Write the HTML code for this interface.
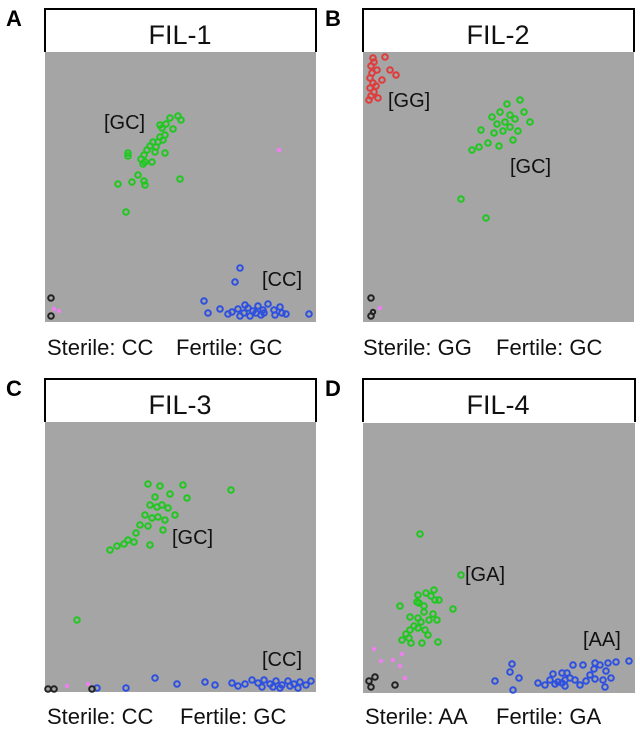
<!DOCTYPE html>
<html><head><style>
body{margin:0;background:#fff;}
svg{display:block}
text{font-family:"Liberation Sans",sans-serif}
</style></head><body>
<svg width="640" height="729" viewBox="0 0 640 729">
<g fill="none" stroke-width="2">
<!-- Panel A -->
<text x="6" y="26" font-size="22" font-weight="bold" fill="#000" stroke="none">A</text>
<path d="M45,52 V9 H316 V52" stroke="#000" stroke-width="2"/>
<text x="180" y="44" font-size="27" text-anchor="middle" fill="#111" stroke="none">FIL-1</text>
<rect x="45" y="52" width="271" height="270" fill="#a5a5a5" stroke="none"/>
<text x="104" y="129" font-size="20" fill="#111" stroke="none">[GC]</text>
<text x="262" y="286" font-size="20" fill="#111" stroke="none">[CC]</text>
<g stroke="#1fc81f">
<circle cx="166" cy="124" r="2.8"/><circle cx="170" cy="118" r="2.8"/><circle cx="178" cy="116" r="2.8"/><circle cx="181" cy="120" r="2.8"/><circle cx="160" cy="125" r="2.8"/><circle cx="162" cy="128" r="2.8"/><circle cx="173" cy="129" r="2.8"/><circle cx="165" cy="135" r="2.8"/><circle cx="163" cy="140" r="2.8"/><circle cx="158" cy="142" r="2.8"/><circle cx="153" cy="142" r="2.8"/><circle cx="150" cy="146" r="2.8"/><circle cx="156" cy="147" r="2.8"/><circle cx="147" cy="150" r="2.8"/><circle cx="144" cy="155" r="2.8"/><circle cx="141" cy="159" r="2.8"/><circle cx="145" cy="162" r="2.8"/><circle cx="128" cy="153" r="2.8"/><circle cx="128" cy="156" r="2.8"/><circle cx="165" cy="153" r="2.8"/><circle cx="152" cy="162" r="2.8"/><circle cx="143" cy="164" r="2.8"/><circle cx="138" cy="175" r="2.8"/><circle cx="132" cy="182" r="2.8"/><circle cx="144" cy="181" r="2.8"/><circle cx="145" cy="185" r="2.8"/><circle cx="118" cy="184" r="2.8"/><circle cx="180" cy="179" r="2.8"/><circle cx="126" cy="212" r="2.8"/><circle cx="160" cy="137" r="2.8"/><circle cx="155" cy="152" r="2.8"/>
</g>
<circle cx="279" cy="150" r="2.4" fill="#f07ef0" stroke="none"/>
<g stroke="#2d50e0">
<circle cx="240" cy="268" r="2.8"/><circle cx="235" cy="282" r="2.8"/><circle cx="204" cy="301" r="2.8"/><circle cx="208" cy="313" r="2.8"/><circle cx="220" cy="309" r="2.8"/><circle cx="232" cy="312" r="2.8"/><circle cx="238" cy="309" r="2.8"/><circle cx="244" cy="313" r="2.8"/><circle cx="248" cy="308" r="2.8"/><circle cx="253" cy="311" r="2.8"/><circle cx="258" cy="306" r="2.8"/><circle cx="263" cy="310" r="2.8"/><circle cx="268" cy="304" r="2.8"/><circle cx="274" cy="310" r="2.8"/><circle cx="280" cy="307" r="2.8"/><circle cx="275" cy="315" r="2.8"/><circle cx="250" cy="316" r="2.8"/><circle cx="240" cy="316" r="2.8"/><circle cx="261" cy="315" r="2.8"/><circle cx="282" cy="313" r="2.8"/><circle cx="286" cy="314" r="2.8"/><circle cx="309" cy="314" r="2.8"/><circle cx="228" cy="314" r="2.8"/><circle cx="256" cy="313" r="2.8"/><circle cx="245" cy="305" r="2.8"/><circle cx="264" cy="313" r="2.8"/>
</g>
<circle cx="51" cy="298" r="2.8" stroke="#222"/><circle cx="51" cy="316" r="2.8" stroke="#222"/>
<circle cx="54" cy="309" r="2.2" fill="#f07ef0" stroke="none"/><circle cx="59" cy="311" r="2.2" fill="#f07ef0" stroke="none"/>
<text x="47" y="355" font-size="22" fill="#111" stroke="none">Sterile: CC</text>
<text x="176" y="355" font-size="22" fill="#111" stroke="none">Fertile: GC</text>

<!-- Panel B -->
<text x="325" y="26" font-size="22" font-weight="bold" fill="#000" stroke="none">B</text>
<path d="M363,52 V9 H634 V52" stroke="#000" stroke-width="2"/>
<text x="498" y="44" font-size="27" text-anchor="middle" fill="#111" stroke="none">FIL-2</text>
<rect x="363" y="52" width="271" height="270" fill="#a5a5a5" stroke="none"/>
<text x="388" y="107" font-size="20" fill="#111" stroke="none">[GG]</text>
<text x="510" y="173" font-size="20" fill="#111" stroke="none">[GC]</text>
<g stroke="#e03a3a">
<circle cx="373" cy="58" r="2.8"/><circle cx="385" cy="57" r="2.8"/><circle cx="371" cy="66" r="2.8"/><circle cx="372" cy="73" r="2.8"/><circle cx="370" cy="78" r="2.8"/><circle cx="373" cy="83" r="2.8"/><circle cx="370" cy="88" r="2.8"/><circle cx="374" cy="92" r="2.8"/><circle cx="371" cy="96" r="2.8"/><circle cx="377" cy="70" r="2.8"/><circle cx="390" cy="70" r="2.8"/><circle cx="396" cy="75" r="2.8"/><circle cx="382" cy="80" r="2.8"/><circle cx="378" cy="98" r="2.8"/><circle cx="369" cy="100" r="2.8"/><circle cx="374" cy="62" r="2.8"/><circle cx="376" cy="86" r="2.8"/>
</g>
<g stroke="#1fc81f">
<circle cx="520" cy="100" r="2.8"/><circle cx="507" cy="104" r="2.8"/><circle cx="500" cy="112" r="2.8"/><circle cx="510" cy="115" r="2.8"/><circle cx="515" cy="119" r="2.8"/><circle cx="505" cy="122" r="2.8"/><circle cx="497" cy="124" r="2.8"/><circle cx="492" cy="117" r="2.8"/><circle cx="510" cy="127" r="2.8"/><circle cx="503" cy="131" r="2.8"/><circle cx="518" cy="131" r="2.8"/><circle cx="494" cy="133" r="2.8"/><circle cx="481" cy="130" r="2.8"/><circle cx="524" cy="112" r="2.8"/><circle cx="530" cy="122" r="2.8"/><circle cx="479" cy="147" r="2.8"/><circle cx="488" cy="143" r="2.8"/><circle cx="499" cy="146" r="2.8"/><circle cx="472" cy="150" r="2.8"/><circle cx="461" cy="199" r="2.8"/><circle cx="486" cy="218" r="2.8"/><circle cx="513" cy="140" r="2.8"/>
</g>
<circle cx="371" cy="298" r="2.8" stroke="#222"/><circle cx="371" cy="316" r="2.8" stroke="#222"/><circle cx="373" cy="312" r="2.2" stroke="#222"/>
<circle cx="380" cy="308" r="2.2" fill="#f07ef0" stroke="none"/>
<text x="363" y="355" font-size="22" fill="#111" stroke="none">Sterile: GG</text>
<text x="496" y="355" font-size="22" fill="#111" stroke="none">Fertile: GC</text>

<!-- Panel C -->
<text x="6" y="396" font-size="22" font-weight="bold" fill="#000" stroke="none">C</text>
<path d="M45,422 V379 H316 V422" stroke="#000" stroke-width="2"/>
<text x="180" y="414" font-size="27" text-anchor="middle" fill="#111" stroke="none">FIL-3</text>
<rect x="45" y="422" width="271" height="270" fill="#a5a5a5" stroke="none"/>
<text x="172" y="544" font-size="20" fill="#111" stroke="none">[GC]</text>
<text x="262" y="666" font-size="20" fill="#111" stroke="none">[CC]</text>
<g stroke="#1fc81f">
<circle cx="148" cy="484" r="2.8"/><circle cx="160" cy="486" r="2.8"/><circle cx="183" cy="485" r="2.8"/><circle cx="231" cy="490" r="2.8"/><circle cx="155" cy="497" r="2.8"/><circle cx="170" cy="494" r="2.8"/><circle cx="187" cy="498" r="2.8"/><circle cx="150" cy="505" r="2.8"/><circle cx="157" cy="507" r="2.8"/><circle cx="162" cy="505" r="2.8"/><circle cx="168" cy="508" r="2.8"/><circle cx="145" cy="515" r="2.8"/><circle cx="152" cy="518" r="2.8"/><circle cx="158" cy="517" r="2.8"/><circle cx="165" cy="520" r="2.8"/><circle cx="140" cy="525" r="2.8"/><circle cx="148" cy="526" r="2.8"/><circle cx="136" cy="533" r="2.8"/><circle cx="128" cy="540" r="2.8"/><circle cx="124" cy="544" r="2.8"/><circle cx="134" cy="542" r="2.8"/><circle cx="117" cy="546" r="2.8"/><circle cx="110" cy="550" r="2.8"/><circle cx="150" cy="545" r="2.8"/><circle cx="163" cy="530" r="2.8"/><circle cx="77" cy="620" r="2.8"/><circle cx="175" cy="515" r="2.8"/>
</g>
<g stroke="#2d50e0">
<circle cx="97" cy="688" r="2.8"/><circle cx="126" cy="688" r="2.8"/><circle cx="155" cy="678" r="2.8"/><circle cx="177" cy="684" r="2.8"/><circle cx="205" cy="682" r="2.8"/><circle cx="215" cy="685" r="2.8"/><circle cx="232" cy="683" r="2.8"/><circle cx="238" cy="686" r="2.8"/><circle cx="245" cy="684" r="2.8"/><circle cx="252" cy="680" r="2.8"/><circle cx="258" cy="683" r="2.8"/><circle cx="264" cy="680" r="2.8"/><circle cx="270" cy="684" r="2.8"/><circle cx="276" cy="681" r="2.8"/><circle cx="282" cy="685" r="2.8"/><circle cx="288" cy="681" r="2.8"/><circle cx="294" cy="684" r="2.8"/><circle cx="300" cy="682" r="2.8"/><circle cx="306" cy="685" r="2.8"/><circle cx="311" cy="681" r="2.8"/><circle cx="262" cy="687" r="2.8"/><circle cx="280" cy="688" r="2.8"/><circle cx="298" cy="688" r="2.8"/><circle cx="273" cy="687" r="2.8"/><circle cx="290" cy="686" r="2.8"/>
</g>
<circle cx="48" cy="689" r="2.8" stroke="#222"/><circle cx="54" cy="689" r="2.8" stroke="#222"/><circle cx="92" cy="689" r="2.8" stroke="#222"/>
<circle cx="67" cy="686" r="2.2" fill="#f07ef0" stroke="none"/><circle cx="88" cy="684" r="2.2" fill="#f07ef0" stroke="none"/>
<text x="47" y="724" font-size="22" fill="#111" stroke="none">Sterile: CC</text>
<text x="180" y="724" font-size="22" fill="#111" stroke="none">Fertile: GC</text>

<!-- Panel D -->
<text x="325" y="396" font-size="22" font-weight="bold" fill="#000" stroke="none">D</text>
<path d="M363,422 V379 H635 V422" stroke="#000" stroke-width="2"/>
<text x="498" y="414" font-size="27" text-anchor="middle" fill="#111" stroke="none">FIL-4</text>
<rect x="363" y="423" width="272" height="270" fill="#a5a5a5" stroke="none"/>
<text x="465" y="581" font-size="20" fill="#111" stroke="none">[GA]</text>
<text x="583" y="646" font-size="20" fill="#111" stroke="none">[AA]</text>
<g stroke="#1fc81f">
<circle cx="420" cy="534" r="2.8"/><circle cx="461" cy="575" r="2.8"/><circle cx="434" cy="590" r="2.8"/><circle cx="426" cy="593" r="2.8"/><circle cx="431" cy="596" r="2.8"/><circle cx="418" cy="595" r="2.8"/><circle cx="417" cy="602" r="2.8"/><circle cx="435" cy="600" r="2.8"/><circle cx="439" cy="600" r="2.8"/><circle cx="419" cy="603" r="2.8"/><circle cx="424" cy="606" r="2.8"/><circle cx="400" cy="606" r="2.8"/><circle cx="424" cy="612" r="2.8"/><circle cx="453" cy="609" r="2.8"/><circle cx="433" cy="614" r="2.8"/><circle cx="429" cy="620" r="2.8"/><circle cx="418" cy="618" r="2.8"/><circle cx="410" cy="617" r="2.8"/><circle cx="437" cy="620" r="2.8"/><circle cx="421" cy="622" r="2.8"/><circle cx="414" cy="626" r="2.8"/><circle cx="418" cy="628" r="2.8"/><circle cx="410" cy="630" r="2.8"/><circle cx="425" cy="630" r="2.8"/><circle cx="428" cy="635" r="2.8"/><circle cx="406" cy="634" r="2.8"/><circle cx="409" cy="638" r="2.8"/><circle cx="402" cy="640" r="2.8"/><circle cx="422" cy="643" r="2.8"/><circle cx="438" cy="642" r="2.8"/><circle cx="411" cy="643" r="2.8"/>
</g>
<g fill="#f07ef0" stroke="none">
<circle cx="374" cy="649" r="2.2"/><circle cx="381" cy="661" r="2.2"/><circle cx="393" cy="660" r="2.2"/><circle cx="402" cy="654" r="2.2"/><circle cx="400" cy="666" r="2.2"/><circle cx="405" cy="678" r="2.2"/>
</g>
<circle cx="369" cy="681" r="2.8" stroke="#222"/><circle cx="375" cy="677" r="2.8" stroke="#222"/><circle cx="371" cy="687" r="2.8" stroke="#222"/><circle cx="395" cy="685" r="2.8" stroke="#222"/>
<g stroke="#2d50e0">
<circle cx="495" cy="681" r="2.8"/><circle cx="512" cy="664" r="2.8"/><circle cx="510" cy="672" r="2.8"/><circle cx="519" cy="678" r="2.8"/><circle cx="513" cy="690" r="2.8"/><circle cx="538" cy="683" r="2.8"/><circle cx="545" cy="685" r="2.8"/><circle cx="550" cy="680" r="2.8"/><circle cx="553" cy="674" r="2.8"/><circle cx="558" cy="682" r="2.8"/><circle cx="565" cy="680" r="2.8"/><circle cx="570" cy="678" r="2.8"/><circle cx="567" cy="673" r="2.8"/><circle cx="573" cy="665" r="2.8"/><circle cx="583" cy="665" r="2.8"/><circle cx="580" cy="685" r="2.8"/><circle cx="586" cy="681" r="2.8"/><circle cx="590" cy="675" r="2.8"/><circle cx="594" cy="669" r="2.8"/><circle cx="600" cy="665" r="2.8"/><circle cx="595" cy="679" r="2.8"/><circle cx="603" cy="680" r="2.8"/><circle cx="606" cy="671" r="2.8"/><circle cx="608" cy="663" r="2.8"/><circle cx="611" cy="678" r="2.8"/><circle cx="605" cy="687" r="2.8"/><circle cx="616" cy="662" r="2.8"/><circle cx="629" cy="661" r="2.8"/><circle cx="595" cy="663" r="2.8"/><circle cx="562" cy="683" r="2.8"/><circle cx="575" cy="680" r="2.8"/><circle cx="562" cy="673" r="2.8"/><circle cx="555" cy="684" r="2.8"/><circle cx="565" cy="686" r="2.8"/>
</g>
<text x="365" y="724" font-size="22" fill="#111" stroke="none">Sterile: AA</text>
<text x="496" y="724" font-size="22" fill="#111" stroke="none">Fertile: GA</text>
</g>
</svg>
</body></html>
